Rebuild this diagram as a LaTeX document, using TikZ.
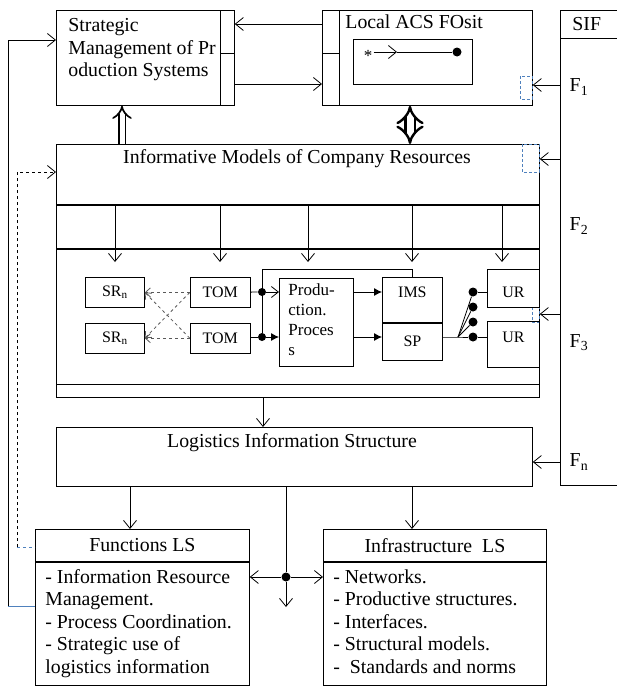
\documentclass[tikz,border=0pt]{standalone}
\usepackage{fontspec}
\setmainfont{Liberation Serif}
\usetikzlibrary{positioning, arrows.meta}
\definecolor{linkblue}{RGB}{79,129,189}

\begin{document}
\begin{tikzpicture}[x=1pt, y=-1pt, line width=0.8pt,
  font=\fontsize{19.8}{22.5}\selectfont,
  >={Straight Barb[length=8pt, width=13pt]},
  box/.style={draw, anchor=north west, inner sep=0pt},
  lab/.style={inner sep=0pt, anchor=north west, align=left},
  small/.style={font=\fontsize{16}{18}\selectfont},
  dot/.style={circle, fill, inner sep=0pt, minimum size=8pt},
  flag/.style={draw=linkblue, densely dashed, line width=0.6pt},
  dbl/.style={double, double distance=5pt, line width=1.7pt, -{Implies}}]

\useasboundingbox (0,0) rectangle (616,688);

% top row
\node[box, minimum width=178pt, minimum height=95pt] (smps) at (56,10) {};
\draw ([xshift=-14pt]smps.north east) -- ([xshift=-14pt]smps.south east);
\draw ([xshift=-14pt]smps.east |- 0,53) -- (smps.east |- 0,53);
\node[lab] (smpstext) at (68,18) {Strategic\\Management of Pr\\oduction Systems};

\node[box, minimum width=210pt, minimum height=95pt] (local) at (322,10) {};
\draw ([xshift=17pt]local.north west) -- ([xshift=17pt]local.south west);
\draw (local.west |- 0,53) -- ([xshift=17pt]local.west |- 0,53);
\node[lab] (localtext) at (345,14) {Local ACS FOsit};
\node[box, minimum width=119pt, minimum height=45pt] (fosit) at (353,39) {};
\node[inner sep=1pt, font=\fontsize{17}{17}\selectfont] (star) at (368,56) {*};
\node[dot, minimum size=9pt] (fend) at (457,52) {};
\coordinate (fmid) at (397,52);
\draw[->] (star.east |- fend) -- (fmid);
\draw (fmid) -- (fend);

\node[box, minimum width=80pt, minimum height=475pt] (sif) at (560,10) {};
\draw (sif.west |- 0,38) -- (sif.east |- 0,38);
\node[lab] (siftext) at (572,17) {SIF};
\node[anchor=west] (f1) at (566,87) {F\textsubscript{1}};
\node[anchor=west] (f2) at (566,226) {F\textsubscript{2}};
\node[anchor=west] (f3) at (566,343) {F\textsubscript{3}};
\node[anchor=west] (fn) at (566,462) {F\textsubscript{n}};

\draw[->] (local.west |- 0,24) -- (smps.east |- 0,24);
\draw[->] (smps.east |- 0,84) -- (local.west |- 0,84);
\draw[->] (sif.west |- 0,85) -- (local.east |- 0,85);
\draw[flag] (520,76) rectangle (532,99);

% company resources
\node[box, minimum width=483pt, minimum height=60pt] (imcr) at (56,144) {};
\node[box, minimum width=483pt, minimum height=43pt] (imrow) at (imcr.south west) {};
\node[box, minimum width=483pt, minimum height=148pt] (imbody) at (imrow.south west) {};
\draw ([yshift=13pt]imbody.south west) -- ([yshift=13pt]imbody.south east);
\node (imtext) at (297,159) {Informative Models of Company Resources};

\draw[dbl] (imcr.north -| 122,0) -- (smps.south -| 122,0);
\draw[dbl, line width=2.4pt, double distance=7pt, {Implies}-{Implies}] (local.south -| 410,0) -- (imcr.north -| 410,0);

\foreach \x in {115,220,308,412,502}
  \draw[->] (imrow.north -| \x,0) -- (\x,262);

\draw[->] (sif.west |- imtext) -- (imcr.east |- imtext);
\draw[flag] (522,144) rectangle (539,172);
\draw[->] (sif.west |- 0,314) -- (imbody.east |- 0,314);
\draw[flag] (532,307) rectangle (539,322);

\node[box, small, minimum width=59pt, minimum height=30pt] (sr1) at (85,277) {SR\textsubscript{n}};
\node[box, small, minimum width=59pt, minimum height=30pt, below=15pt of sr1] (sr2) {SR\textsubscript{n}};
\node[box, small, minimum width=60pt, minimum height=30pt, right=45pt of sr1] (tom1) {TOM};
\node[box, small, minimum width=60pt, minimum height=30pt, right=45pt of sr2] (tom2) {TOM};

\begin{scope}[gray!70!black, dashed, ->, >={Straight Barb[length=5pt, width=9pt]}]
  \draw (tom1.west) -- (sr1.east);
  \draw (tom1.west) -- (sr2.east);
  \draw (tom2.west) -- (sr1.east);
  \draw (tom2.west) -- (sr2.east);
\end{scope}

\node[box, minimum width=74pt, minimum height=88pt] (prod) at (279,278) {};
\node[lab, font=\fontsize{17}{20}\selectfont] (prodtext) at (288,283) {Produ-\\ction.\\Proces\\s};

\node[dot] (d1) at (262,292) {};
\node[dot] (d2) at (262,337) {};
\draw (tom1) -- (d1);
\draw (tom2.east |- d2) -- (d2);
\draw[-{Straight Barb[length=7pt, width=11pt]}] (d1) -- (prod.west |- d1);
\draw[-{Latex[length=8pt, width=8pt]}] (d2) -- (prod.west |- d2);

\node[box, minimum width=60pt, minimum height=45pt] (ims) at (382,277) {};
\node[box, small, minimum width=60pt, minimum height=37pt, below=0pt of ims] (sp) {SP};
\node[small] (imstext) at (ims.center |- d1) {IMS};
\draw (d2) -- (d2 |- 0,269) -| (ims.north);
\draw[-{Latex[length=8pt, width=8pt]}] (prod.east |- d1) -- (ims.west |- d1);
\draw[-{Latex[length=8pt, width=8pt]}] (prod.east |- d2) -- (sp.west |- d2);

\node[box, minimum width=52pt, minimum height=38pt] (ur1) at (487,269) {};
\node[box, minimum width=52pt, minimum height=46pt] (ur2) at (487,321) {};
\node[small] (ur1text) at (ur1.center |- d1) {UR};
\node[small] (ur2text) at (ur2.center |- d2) {UR};

\coordinate (sw) at (458,337);
\node[dot, minimum size=9pt] (s1) at (473,292) {};
\node[dot, minimum size=9pt] (s2) at (473,307) {};
\node[dot, minimum size=9pt] (s3) at (473,322) {};
\node[dot, minimum size=9pt] (s4) at (473,337) {};
\draw (sp.east |- sw) -- (sw) -- (s4);
\foreach \s in {s1,s2,s3}
  \draw (sw) -- (\s);
\draw (s1) -- (ur1.west |- s1);
\draw (s4) -- (ur2.west |- s4);

% logistics
\node[box, minimum width=476pt, minimum height=59pt] (lis) at (56,427) {};
\node (listext) at (292,443) {Logistics Information Structure};
\draw[->] (imbody.south -| 263,0) -- (lis.north -| 263,0);
\draw[->] (sif.west |- 0,462) -- (lis.east |- 0,462);

\node[box, minimum width=214pt, minimum height=32pt] (funchead) at (35,529) {Functions LS};
\node[box, minimum width=214pt, minimum height=123pt] (funcs) at (funchead.south west) {};
\node[lab] (funcstext) at (45,569) {- Information Resource\\Management.\\- Process Coordination.\\- Strategic use of\\logistics information};

\node[box, minimum width=223pt, minimum height=32pt] (infrahead) at (323,529) {Infrastructure\ \ LS};
\node[box, minimum width=223pt, minimum height=123pt] (infra) at (infrahead.south west) {};
\node[lab] (infratext) at (333,569) {- Networks.\\- Productive structures.\\- Interfaces.\\- Structural models.\\-\ \ Standards and norms};

\draw[->] (lis.south -| 130,0) -- (funchead.north -| 130,0);
\draw[->] (lis.south -| 412,0) -- (infrahead.north -| 412,0);
\node[dot, minimum size=9pt] (jdot) at (286,577) {};
\coordinate (jend) at (286,607);
\draw (lis.south -| jdot) -- (jdot);
\draw[->] (jdot) -- (funcs.east |- jdot);
\draw[->] (jdot) -- (infra.west |- jdot);
\draw[->] (jdot) -- (jend);

% feedback
\coordinate (fbl) at (8,606);
\draw[linkblue] (fbl) -- (funcs.west |- fbl);
\draw[->] (fbl) |- (smps.west |- 0,40);
\coordinate (fbd) at (17,547);
\draw[linkblue, dashed] (fbd) -- (funchead.west |- fbd);
\draw[dashed, ->] (fbd) |- (imcr.west |- 0,172);

\end{tikzpicture}
\end{document}
